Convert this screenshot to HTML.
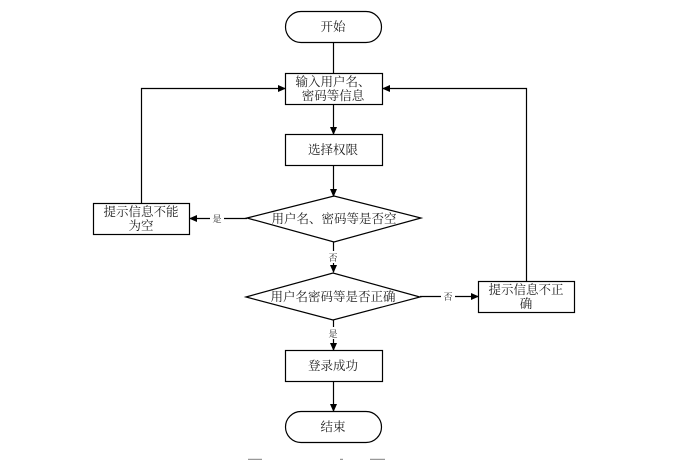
<!DOCTYPE html>
<html><head><meta charset="utf-8"><style>
html,body{margin:0;padding:0;background:#fff;}
svg{display:block;}
text{font-family:"Liberation Serif","Noto Serif CJK SC",serif;fill:#222;}
</style></head><body>
<svg width="694" height="460" viewBox="0 0 694 460" xmlns="http://www.w3.org/2000/svg">
<defs><marker id="a" markerWidth="8" markerHeight="8" refX="7" refY="4" orient="auto" markerUnits="userSpaceOnUse"><path d="M0,0.5 L8,4 L0,7.5 z" fill="#000"/></marker></defs>
<g stroke="#000" stroke-width="1.2" fill="#fff">
<rect x="285.5" y="11.5" width="96" height="31" rx="15.5"/>
<rect x="285.5" y="73.5" width="97" height="31"/>
<rect x="285.5" y="134.5" width="97" height="31"/>
<polygon points="247,218 334,196 421,218 334,242"/>
<rect x="93.5" y="203.5" width="96" height="31"/>
<polygon points="246,297 333,273 420,297 333,320"/>
<rect x="478.5" y="281.5" width="96" height="31"/>
<rect x="285.5" y="350.5" width="97" height="31"/>
<rect x="285.5" y="411.5" width="96" height="31" rx="15.5"/>
</g>
<g stroke="#000" stroke-width="1.2" fill="none">
<line x1="333.5" y1="42" x2="333.5" y2="73" />
<line x1="333.5" y1="105" x2="333.5" y2="134" marker-end="url(#a)"/>
<line x1="333.5" y1="166" x2="333.5" y2="196" marker-end="url(#a)"/>
<line x1="247" y1="218.5" x2="190" y2="218.5" marker-end="url(#a)"/>
<polyline points="141.5,203 141.5,88.5 285,88.5" marker-end="url(#a)"/>
<line x1="333.5" y1="242" x2="333.5" y2="272" marker-end="url(#a)"/>
<line x1="420" y1="296.5" x2="478" y2="296.5" marker-end="url(#a)"/>
<polyline points="526.5,281 526.5,88.5 383,88.5" marker-end="url(#a)"/>
<line x1="333.5" y1="320" x2="333.5" y2="350" marker-end="url(#a)"/>
<line x1="333.5" y1="382" x2="333.5" y2="411" marker-end="url(#a)"/>
</g>
<g font-size="12.5" text-anchor="middle">
<text x="333" y="31">开始</text>
<text x="333" y="86">输入用户名、</text>
<text x="333" y="100">密码等信息</text>
<text x="333" y="154">选择权限</text>
<text x="334" y="223">用户名、密码等是否空</text>
<text x="141" y="216">提示信息不能</text>
<text x="141" y="230">为空</text>
<text x="333" y="301">用户名密码等是否正确</text>
<text x="526" y="294">提示信息不正</text>
<text x="526" y="308">确</text>
<text x="333" y="370">登录成功</text>
<text x="333" y="431">结束</text>
</g>
<g font-size="9" text-anchor="middle">
<rect x="210" y="212" width="14" height="12" fill="#fff"/><text x="217" y="222">是</text>
<rect x="327" y="251" width="13" height="12" fill="#fff"/><text x="333" y="261">否</text>
<rect x="441" y="290" width="14" height="12" fill="#fff"/><text x="448" y="300">否</text>
<rect x="327" y="327" width="13" height="12" fill="#fff"/><text x="333" y="337">是</text>
</g>
<g stroke="#999" stroke-width="1.5">
<line x1="248" y1="459.5" x2="262" y2="459.5"/>
<line x1="340" y1="459.5" x2="343" y2="459.5"/>
<line x1="370" y1="459.5" x2="385" y2="459.5"/>
</g>
</svg>
</body></html>
